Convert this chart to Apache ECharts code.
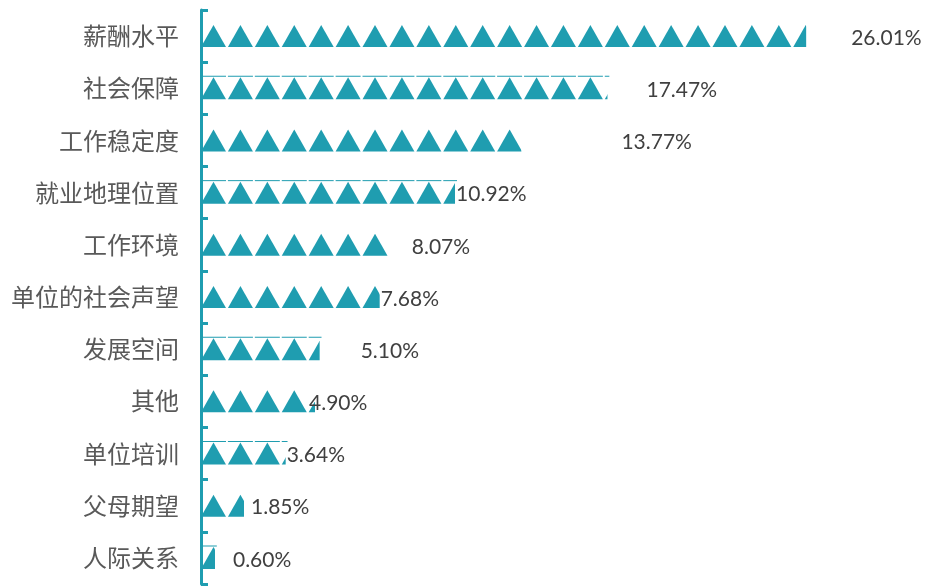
<!DOCTYPE html>
<html>
<head>
<meta charset="utf-8">
<script src="https://cdn.jsdelivr.net/npm/echarts@6/dist/echarts.min.js"></script>
<style>
  html, body { margin: 0; padding: 0; background: #fff; }
  #chart { width: 925px; height: 587px; }
</style>
</head>
<body>
<div id="chart"></div>
<script>
// 各因素占比（%）
const categories = ['薪酬水平', '社会保障', '工作稳定度', '就业地理位置', '工作环境', '单位的社会声望', '发展空间', '其他', '单位培训', '父母期望', '人际关系'];
const values = [26.01, 17.47, 13.77, 10.92, 8.07, 7.68, 5.10, 4.90, 3.64, 1.85, 0.60];
// 顶部细线出现的类别
const outlined = ['社会保障', '就业地理位置', '发展空间', '单位培训', '人际关系'];
// 数据标签相对柱末端的偏移（像素）
const labelShift = [45, 39, 100, 1, 23, 1, 41, -6, 1, 7, 18];

const teal = '#1f9db0';
const chart = echarts.init(document.getElementById('chart'));

const option = {
  animation: false,
  grid: { left: 201, top: 10, width: 698, bottom: 3, containLabel: false },
  xAxis: {
    type: 'value',
    min: 0,
    max: 30,
    show: false
  },
  yAxis: {
    type: 'category',
    inverse: true,
    data: categories,
    axisLine: { show: true, lineStyle: { color: teal, width: 3 } },
    axisTick: { show: true, inside: true, length: 7, lineStyle: { color: teal, width: 3 } },
    axisLabel: {
      margin: 22,
      color: '#595959',
      fontSize: 24,
      fontFamily: 'Noto Sans CJK SC'
    },
    splitLine: { show: false }
  },
  series: [
    {
      type: 'pictorialBar',
      symbol: 'triangle',
      symbolSize: [25, 22],
      symbolMargin: 1,
      symbolRepeat: true,
      symbolClip: true,
      symbolBoundingData: 30,
      itemStyle: { color: teal },
      data: values,
      z: 3
    },
    {
      type: 'pictorialBar',
      symbol: 'rect',
      symbolSize: [25, 1],
      symbolOffset: [0, -12],
      symbolMargin: 1,
      symbolRepeat: true,
      symbolClip: true,
      symbolBoundingData: 30,
      itemStyle: { color: teal },
      silent: true,
      data: categories.map((c, i) => outlined.includes(c) ? values[i] + 0.08 : '-'),
      z: 2
    },
    {
      // 透明柱，只用来放数据标签
      type: 'bar',
      barWidth: 20,
      itemStyle: { color: 'rgba(0,0,0,0)' },
      silent: true,
      label: {
        show: true,
        position: 'right',
        distance: 0,
        color: '#404040',
        fontSize: 21,
        fontFamily: 'Lato',
        formatter: p => p.value.toFixed(2) + '%'
      },
      data: values.map((v, i) => ({ value: v, label: { offset: [labelShift[i], 2] } })),
      z: 4
    }
  ]
};

chart.setOption(option);
</script>
</body>
</html>
